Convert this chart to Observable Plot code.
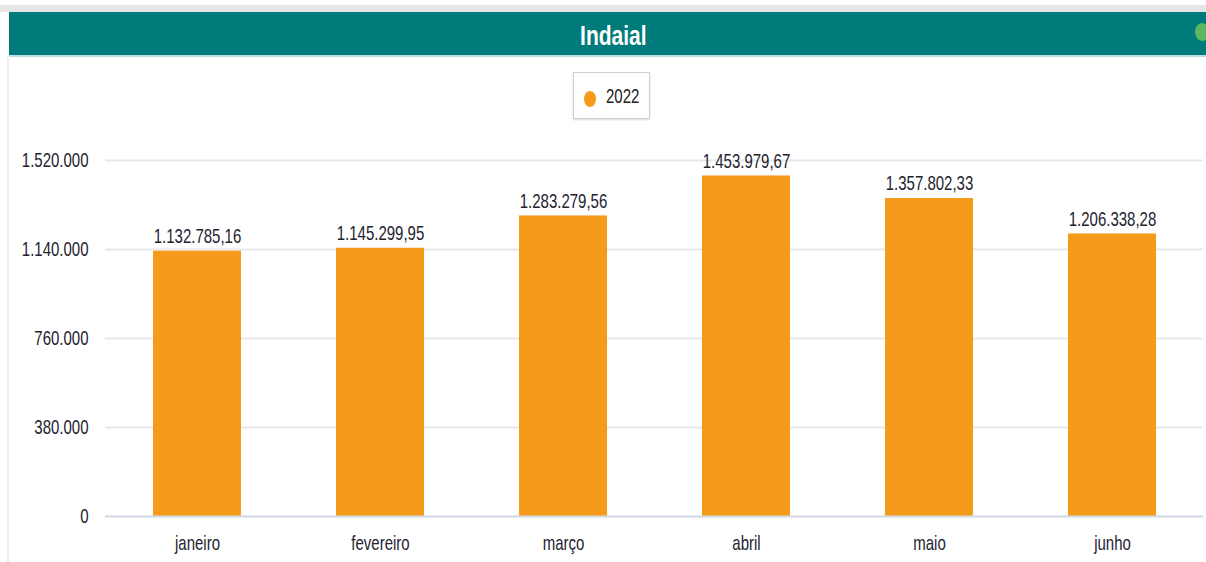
<!DOCTYPE html>
<html>
<head>
<meta charset="utf-8">
<script src="https://cdn.jsdelivr.net/npm/d3@7"></script>
<script src="https://cdn.jsdelivr.net/npm/@observablehq/plot@0.6"></script>
<style>
  html, body { margin: 0; padding: 0; background: #fff; }
  body { width: 1206px; height: 562px; overflow: hidden; position: relative;
         font-family: "Liberation Sans", Arial, sans-serif; }
  #topstrip { position: absolute; left: 0; top: 5px; width: 1206px; height: 7px; background: #e6e6e6; }
  #header { position: absolute; left: 9px; top: 12px; width: 1197px; height: 43px; background: #007b7b;
            border-bottom: 2px solid #b9dde0; box-sizing: content-box;
            color: #fff; font-weight: bold; font-size: 28px; text-align: center; line-height: 47px; }
  #header span { display: inline-block; transform: scaleX(0.75); margin-left: 12px; }
  #dot { position: absolute; left: 1195px; top: 23px; width: 14px; height: 18px; border-radius: 50%; background: #5cb85c; }
  #leftline { position: absolute; left: 7px; top: 57px; width: 2px; height: 505px; background: #ededed; }
  #legend { position: absolute; left: 573px; top: 72px; width: 77px; height: 47px; border: 1px solid #cfcfcf;
            box-shadow: 0 1px 2px rgba(0,0,0,0.15); background: #fff; font-size: 20px; color: #222;
            box-sizing: border-box; }
  #legend .sw { position: absolute; display: block; left: 10px; top: 18px; width: 12px; height: 16px; border-radius: 50%; background: #f59a1b; }
  #legend .lab { position: absolute; display: block; left: 32px; top: 12px; line-height: 23px; transform: scaleX(0.75); transform-origin: left center; }
  #chart { position: absolute; left: 0; top: 130px; }
</style>
</head>
<body>
<div id="topstrip"></div>
<div id="header"><span>Indaial</span></div>
<div id="dot"></div>
<div id="leftline"></div>
<div id="legend"><span class="sw"></span><span class="lab" id="legendLabel"></span></div>
<div id="chart"></div>
<script>
const months = ["janeiro", "fevereiro", "março", "abril", "maio", "junho"];
const values2022 = [1132785.16, 1145299.95, 1283279.56, 1453979.67, 1357802.33, 1206338.28];
const yTicks = [0, 380000, 760000, 1140000, 1520000];
const seriesName = "2022";

document.getElementById("legendLabel").textContent = seriesName;

const locale = d3.formatLocale({decimal: ",", thousands: ".", grouping: [3], currency: ["R$ ", ""]});
const fmtInt = locale.format(",d");
const fmtDec = locale.format(",.2f");

const data = months.map((m, i) => ({month: m, value: values2022[i], series: seriesName}));

const plot = Plot.plot({
  width: 1206,
  height: 432,
  marginTop: 30,
  marginBottom: 46,
  marginLeft: 105,
  marginRight: 3,
  style: {fontFamily: '"Liberation Sans", Arial, sans-serif', fontSize: "20px", color: "#23232f", background: "transparent"},
  x: {domain: months, paddingInner: 0.52, paddingOuter: 0.26, label: null},
  y: {domain: [0, 1520000], label: null},
  marks: [
    Plot.gridY(yTicks, {stroke: "#e8e8e8", strokeOpacity: 1, strokeWidth: 2}),
    Plot.barY(data, {x: "month", y: "value", fill: "#f59a1b"}),
    Plot.ruleY([0], {stroke: "#d6dbe8", strokeWidth: 2}),
    Plot.text(data, {x: "month", y: "value", text: d => fmtDec(d.value), lineAnchor: "bottom", dy: -8, fontSize: 20, fill: "#23232f"}),
    Plot.axisY({ticks: yTicks, tickFormat: fmtInt, tickSize: 0, tickPadding: 17, fontSize: 20, label: null}),
    Plot.axisX({tickSize: 0, tickPadding: 19, fontSize: 20, label: null})
  ]
});
// narrow the glyphs horizontally around each label's own anchor point
plot.querySelectorAll("text").forEach(t => {
  const tr = t.getAttribute("transform") || "";
  t.setAttribute("transform", tr + " scale(0.75,1)");
});
document.getElementById("chart").appendChild(plot);
</script>
</body>
</html>
